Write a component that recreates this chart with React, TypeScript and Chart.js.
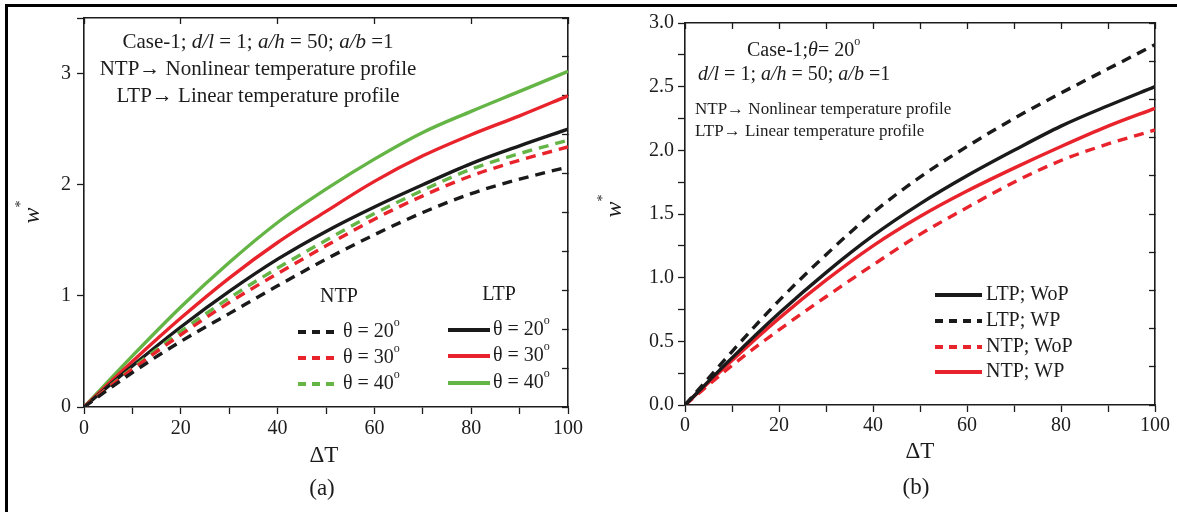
import React, { useEffect, useRef } from 'react';
import { Chart, registerables } from 'chart.js';

Chart.register(...registerables);

// ---------- data ----------
const deltaT = [0, 10, 20, 30, 40, 50, 60, 70, 80, 90, 100];

// panel (a)
const ntpTheta20 = [0, 0.31, 0.59, 0.84, 1.09, 1.33, 1.55, 1.75, 1.92, 2.05, 2.16];
const ntpTheta30 = [0, 0.34, 0.65, 0.94, 1.2, 1.45, 1.69, 1.9, 2.08, 2.22, 2.34];
const ntpTheta40 = [0, 0.35, 0.68, 0.98, 1.25, 1.5, 1.74, 1.95, 2.14, 2.28, 2.4];
const ltpTheta20 = [0, 0.37, 0.72, 1.04, 1.33, 1.58, 1.8, 2.0, 2.19, 2.35, 2.5];
const ltpTheta30 = [0, 0.41, 0.8, 1.16, 1.48, 1.76, 2.03, 2.26, 2.45, 2.62, 2.8];
const ltpTheta40 = [0, 0.46, 0.9, 1.3, 1.66, 1.96, 2.23, 2.47, 2.66, 2.84, 3.02];

// panel (b)
const ltpWoP = [0, 0.37, 0.72, 1.04, 1.33, 1.58, 1.8, 2.0, 2.19, 2.35, 2.5];
const ltpWP = [0, 0.42, 0.82, 1.18, 1.51, 1.79, 2.03, 2.25, 2.45, 2.64, 2.83];
const ntpWoP = [0, 0.31, 0.59, 0.85, 1.1, 1.34, 1.55, 1.75, 1.92, 2.05, 2.16];
const ntpWP = [0, 0.35, 0.68, 0.98, 1.25, 1.48, 1.68, 1.86, 2.03, 2.19, 2.33];

// labels
const thetaLabels = ['θ = 20', 'θ = 30', 'θ = 40'];
const panelBLabels = ['LTP; WoP', 'LTP; WP', 'NTP; WoP', 'NTP; WP'];
const xTitle = 'ΔT';
const noteNTP = 'NTP→ Nonlinear temperature profile';
const noteLTP = 'LTP→ Linear temperature profile';

// ---------- styles ----------
const FONT = '"Liberation Serif", "Times New Roman", serif';
const INK = '#1c1c1c';
const BLACK = '#1a1a1a';
const RED = '#e8232b';
const GREEN = '#64b546';
const DASH = [10, 7];

type Seg = { t: string; i?: boolean; sup?: boolean };

function drawSegs(ctx: CanvasRenderingContext2D, segs: Seg[], x: number, y: number, size: number, align: 'left' | 'center', raise = 0.45) {
  const fontOf = (s: Seg) => `${s.i ? 'italic ' : ''}${s.sup ? Math.round(size * 0.58) : size}px ${FONT}`;
  let total = 0;
  for (const s of segs) {
    ctx.font = fontOf(s);
    total += ctx.measureText(s.t).width;
  }
  let cx = align === 'center' ? x - total / 2 : x;
  ctx.textAlign = 'left';
  ctx.textBaseline = 'middle';
  for (const s of segs) {
    ctx.font = fontOf(s);
    ctx.fillText(s.t, cx, s.sup ? y - size * raise : y);
    cx += ctx.measureText(s.t).width;
  }
}

function legendLine(ctx: CanvasRenderingContext2D, ds: any, x1: number, x2: number, y: number) {
  ctx.save();
  ctx.strokeStyle = ds.borderColor;
  ctx.lineWidth = 4;
  ctx.setLineDash(ds.borderDash && ds.borderDash.length ? [8, 6] : []);
  ctx.beginPath();
  ctx.moveTo(x1, y);
  ctx.lineTo(x2, y);
  ctx.stroke();
  ctx.restore();
}

function series(values: number[], color: string, dashed: boolean, label: string) {
  return {
    label,
    data: deltaT.map((x, k) => ({ x, y: values[k] })),
    borderColor: color,
    backgroundColor: color,
    borderWidth: 3.4,
    borderDash: dashed ? DASH : [],
    pointRadius: 0,
    cubicInterpolationMode: 'monotone' as const,
    fill: false,
    xAxisID: 'x',
    yAxisID: 'y',
  };
}

function axisStyle() {
  return {
    grid: { drawOnChartArea: false, drawTicks: true, color: INK, tickColor: INK, tickWidth: 1.3, tickLength: 7 },
    border: { display: true, color: INK, width: 1.6 },
  };
}

function buildScales(opts: {
  yMax: number; yStep: number; yLabel: (v: number) => string; y2Step: number;
  xStep2: number; leftW: number; rightW: number; topH: number; bottomH: number;
  xPad: number; yPad: number;
}) {
  const base = axisStyle();
  const tickFont = { family: FONT, size: 20 };
  return {
    x: {
      type: 'linear', position: 'bottom', min: 0, max: 100,
      afterFit: (s: any) => { s.height = opts.bottomH; },
      ticks: { stepSize: 10, autoSkip: false, maxRotation: 0, color: INK, font: tickFont, padding: opts.xPad,
        callback: (v: any) => (Number(v) % 20 === 0 ? String(v) : '') },
      ...base,
    },
    y: {
      type: 'linear', position: 'left', min: 0, max: opts.yMax,
      afterFit: (s: any) => { s.width = opts.leftW; },
      ticks: { stepSize: opts.yStep, autoSkip: false, color: INK, font: tickFont, padding: opts.yPad,
        callback: (v: any) => opts.yLabel(Number(v)) },
      ...base,
    },
    x2: {
      type: 'linear', position: 'top', min: 0, max: 100,
      afterFit: (s: any) => { s.height = opts.topH; },
      ticks: { display: false, stepSize: opts.xStep2 },
      grid: { ...base.grid, tickLength: -6 },
      border: base.border,
    },
    y2: {
      type: 'linear', position: 'right', min: 0, max: opts.yMax,
      afterFit: (s: any) => { s.width = opts.rightW; },
      ticks: { display: false, stepSize: opts.y2Step },
      grid: { ...base.grid, tickLength: -6 },
      border: base.border,
    },
  };
}

function drawYTitle(ctx: CanvasRenderingContext2D, x: number, y: number) {
  ctx.save();
  ctx.translate(x, y);
  ctx.rotate(-Math.PI / 2);
  drawSegs(ctx, [{ t: 'w', i: true }, { t: '*', sup: true }], 0, 0, 24, 'center', 0.5);
  ctx.restore();
}

// ---------- panel (a) ----------
function configA(): any {
  const datasets = [
    series(ntpTheta20, BLACK, true, 'NTP ' + thetaLabels[0]),
    series(ntpTheta30, RED, true, 'NTP ' + thetaLabels[1]),
    series(ntpTheta40, GREEN, true, 'NTP ' + thetaLabels[2]),
    series(ltpTheta20, BLACK, false, 'LTP ' + thetaLabels[0]),
    series(ltpTheta30, RED, false, 'LTP ' + thetaLabels[1]),
    series(ltpTheta40, GREEN, false, 'LTP ' + thetaLabels[2]),
  ];
  const overlay = {
    id: 'overlayA',
    afterDraw(chart: any) {
      const ctx: CanvasRenderingContext2D = chart.ctx;
      ctx.save();
      ctx.fillStyle = INK;
      drawSegs(ctx, [
        { t: 'Case-1; ' }, { t: 'd/l', i: true }, { t: ' = 1; ' }, { t: 'a/h', i: true },
        { t: ' = 50; ' }, { t: 'a/b', i: true }, { t: ' =1' },
      ], 258, 42, 21, 'center');
      drawSegs(ctx, [{ t: noteNTP }], 258, 69, 21, 'center');
      drawSegs(ctx, [{ t: noteLTP }], 258, 96, 21, 'center');
      drawYTitle(ctx, 33, 212);
      drawSegs(ctx, [{ t: xTitle }], 324, 456, 23, 'center');
      drawSegs(ctx, [{ t: '(a)' }], 322, 489, 23, 'center');
      // legend
      drawSegs(ctx, [{ t: 'NTP' }], 339, 297, 20, 'center');
      drawSegs(ctx, [{ t: 'LTP' }], 499, 295, 20, 'center');
      const ds = chart.data.datasets;
      const ntpY = [332, 358, 384];
      const ltpY = [330, 356, 383];
      for (let k = 0; k < 3; k++) {
        legendLine(ctx, ds[k], 298, 335, ntpY[k]);
        drawSegs(ctx, [{ t: thetaLabels[k] }, { t: 'o', sup: true }], 343, ntpY[k], 20, 'left');
        legendLine(ctx, ds[k + 3], 448, 490, ltpY[k]);
        drawSegs(ctx, [{ t: thetaLabels[k] }, { t: 'o', sup: true }], 493, ltpY[k], 20, 'left');
      }
      ctx.restore();
    },
  };
  return {
    type: 'line',
    data: { datasets },
    options: {
      responsive: false,
      animation: false,
      layout: { padding: 0 },
      plugins: { legend: { display: false }, tooltip: { enabled: false } },
      scales: buildScales({
        yMax: 3.5, yStep: 1, y2Step: 0.35,
        yLabel: (v) => (Math.abs(v - Math.round(v)) < 1e-6 && v <= 3 ? String(Math.round(v)) : ''),
        xStep2: 20, leftW: 84, rightW: 22, topH: 15, bottomH: 105, xPad: 3, yPad: 6,
      }),
    },
    plugins: [overlay],
  };
}

// ---------- panel (b) ----------
function configB(): any {
  const datasets = [
    series(ltpWoP, BLACK, false, panelBLabels[0]),
    series(ltpWP, BLACK, true, panelBLabels[1]),
    series(ntpWoP, RED, true, panelBLabels[2]),
    series(ntpWP, RED, false, panelBLabels[3]),
  ];
  const overlay = {
    id: 'overlayB',
    afterDraw(chart: any) {
      const ctx: CanvasRenderingContext2D = chart.ctx;
      ctx.save();
      ctx.fillStyle = INK;
      drawSegs(ctx, [{ t: 'Case-1;' }, { t: 'θ', i: true }, { t: '= 20' }, { t: 'o', sup: true }], 157, 51, 20, 'left');
      drawSegs(ctx, [
        { t: 'd/l', i: true }, { t: ' = 1; ' }, { t: 'a/h', i: true },
        { t: ' = 50; ' }, { t: 'a/b', i: true }, { t: ' =1' },
      ], 108, 75, 20, 'left');
      drawSegs(ctx, [{ t: noteNTP }], 105, 110, 17, 'left');
      drawSegs(ctx, [{ t: noteLTP }], 105, 132, 17, 'left');
      drawYTitle(ctx, 25, 206);
      drawSegs(ctx, [{ t: xTitle }], 330, 452, 23, 'center');
      drawSegs(ctx, [{ t: '(b)' }], 326, 488, 23, 'center');
      const ds = chart.data.datasets;
      const ly = [295, 321, 347, 372];
      for (let k = 0; k < 4; k++) {
        legendLine(ctx, ds[k], 345, 392, ly[k]);
        drawSegs(ctx, [{ t: panelBLabels[k] }], 396, ly[k], 20, 'left');
      }
      ctx.restore();
    },
  };
  return {
    type: 'line',
    data: { datasets },
    options: {
      responsive: false,
      animation: false,
      layout: { padding: 0 },
      plugins: { legend: { display: false }, tooltip: { enabled: false } },
      scales: buildScales({
        yMax: 3.0, yStep: 0.25, y2Step: 0.3,
        yLabel: (v) => (Math.abs(v * 2 - Math.round(v * 2)) < 1e-6 ? v.toFixed(1) : ''),
        xStep2: 10, leftW: 95, rightW: 22, topH: 23, bottomH: 107, xPad: 2, yPad: 4,
      }),
    },
    plugins: [overlay],
  };
}

function Panel({ left, width, make }: { left: number; width: number; make: () => any }) {
  const ref = useRef<HTMLCanvasElement>(null);
  useEffect(() => {
    const chart = new Chart(ref.current as HTMLCanvasElement, make());
    return () => chart.destroy();
  }, []);
  return (
    <div style={{ position: 'absolute', left, top: 0, width, height: 512 }}>
      <canvas ref={ref} width={width} height={512} style={{ width, height: 512, display: 'block' }} />
    </div>
  );
}

export default function App() {
  return (
    <div style={{ position: 'absolute', left: 0, top: 0, width: 1177, height: 512, background: '#fff', overflow: 'hidden' }}>
      <div style={{ position: 'absolute', left: 5, top: 4, width: 1172, height: 508, borderTop: '3px solid #000', borderLeft: '3px solid #000', boxSizing: 'border-box' }} />
      <Panel left={0} width={590} make={configA} />
      <Panel left={590} width={587} make={configB} />
    </div>
  );
}
